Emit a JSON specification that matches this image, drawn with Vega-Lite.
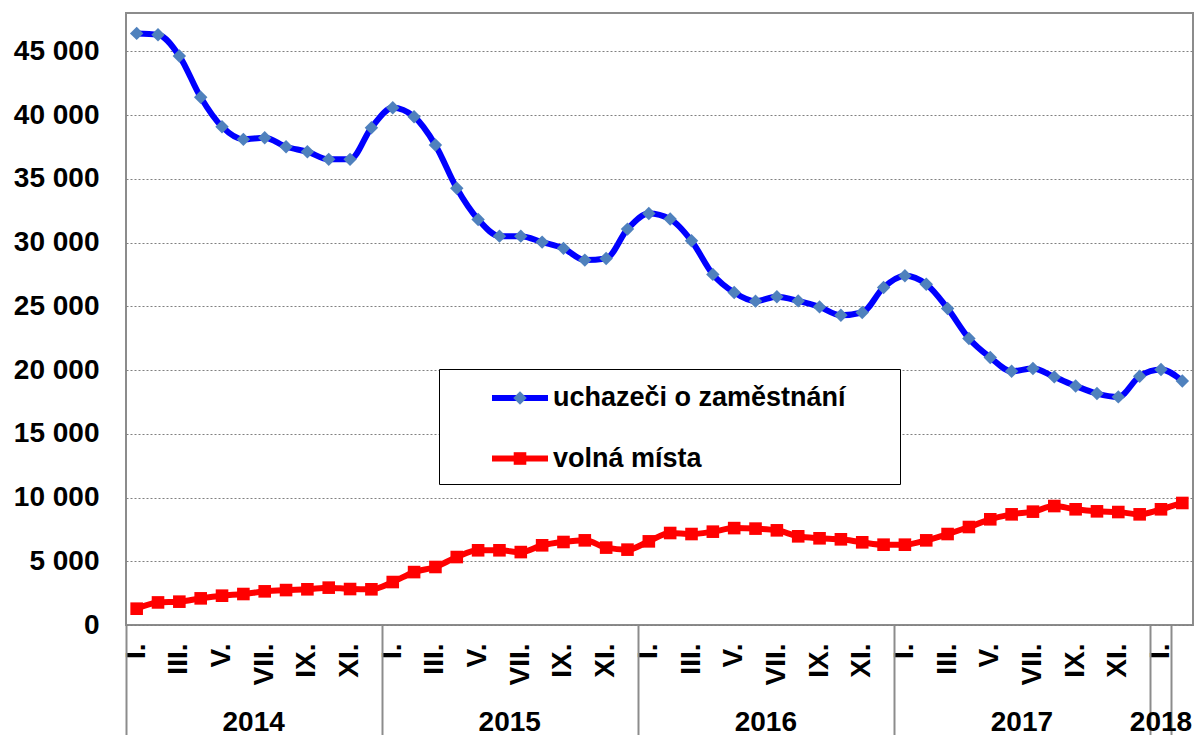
{
  "$schema": "https://vega.github.io/schema/vega-lite/v6.json",
  "width": 1067,
  "height": 612,
  "autosize": "none",
  "padding": {"left": 126, "top": 13, "right": 4, "bottom": 110},
  "background": "white",
  "config": {
    "font": "Liberation Sans",
    "view": {"stroke": "#8c8c8c", "strokeWidth": 2},
    "locale": {"number": {"decimal": ",", "thousands": " ", "grouping": [3], "currency": ["", " Kč"]}},
    "axis": {"labelFont": "Liberation Sans", "labelFontSize": 28, "labelFontWeight": "bold", "labelColor": "black", "title": null, "domain": false}
  },
  "data": {"values": [
    {"p": "2014-01", "uchazeči o zaměstnání": 46400, "volná místa": 1280},
    {"p": "2014-02", "uchazeči o zaměstnání": 46300, "volná místa": 1770},
    {"p": "2014-03", "uchazeči o zaměstnání": 44630, "volná místa": 1830},
    {"p": "2014-04", "uchazeči o zaměstnání": 41390, "volná místa": 2090},
    {"p": "2014-05", "uchazeči o zaměstnání": 39080, "volná místa": 2300},
    {"p": "2014-06", "uchazeči o zaměstnání": 38090, "volná místa": 2430},
    {"p": "2014-07", "uchazeči o zaměstnání": 38220, "volná místa": 2640},
    {"p": "2014-08", "uchazeči o zaměstnání": 37510, "volná místa": 2740},
    {"p": "2014-09", "uchazeči o zaměstnání": 37120, "volná místa": 2800},
    {"p": "2014-10", "uchazeči o zaměstnání": 36520, "volná místa": 2930},
    {"p": "2014-11", "uchazeči o zaměstnání": 36520, "volná místa": 2820},
    {"p": "2014-12", "uchazeči o zaměstnání": 39000, "volná místa": 2800},
    {"p": "2015-01", "uchazeči o zaměstnání": 40570, "volná místa": 3370},
    {"p": "2015-02", "uchazeči o zaměstnání": 39870, "volná místa": 4150},
    {"p": "2015-03", "uchazeči o zaměstnání": 37640, "volná místa": 4550},
    {"p": "2015-04", "uchazeči o zaměstnání": 34250, "volná místa": 5330},
    {"p": "2015-05", "uchazeči o zaměstnání": 31810, "volná místa": 5860},
    {"p": "2015-06", "uchazeči o zaměstnání": 30500, "volná místa": 5860},
    {"p": "2015-07", "uchazeči o zaměstnání": 30500, "volná místa": 5720},
    {"p": "2015-08", "uchazeči o zaměstnání": 30030, "volná místa": 6250},
    {"p": "2015-09", "uchazeči o zaměstnání": 29540, "volná místa": 6510},
    {"p": "2015-10", "uchazeči o zaměstnání": 28620, "volná místa": 6640},
    {"p": "2015-11", "uchazeči o zaměstnání": 28750, "volná místa": 6070},
    {"p": "2015-12", "uchazeči o zaměstnání": 31050, "volná místa": 5910},
    {"p": "2016-01", "uchazeči o zaměstnání": 32280, "volná místa": 6560},
    {"p": "2016-02", "uchazeči o zaměstnání": 31840, "volná místa": 7215},
    {"p": "2016-03", "uchazeči o zaměstnání": 30130, "volná místa": 7135},
    {"p": "2016-04", "uchazeči o zaměstnání": 27500, "volná místa": 7320},
    {"p": "2016-05", "uchazeči o zaměstnání": 26080, "volná místa": 7600},
    {"p": "2016-06", "uchazeči o zaměstnání": 25400, "volná místa": 7560},
    {"p": "2016-07", "uchazeči o zaměstnání": 25740, "volná místa": 7425},
    {"p": "2016-08", "uchazeči o zaměstnání": 25420, "volná místa": 6955},
    {"p": "2016-09", "uchazeči o zaměstnání": 24950, "volná místa": 6800},
    {"p": "2016-10", "uchazeči o zaměstnání": 24300, "volná místa": 6720},
    {"p": "2016-11", "uchazeči o zaměstnání": 24510, "volná místa": 6485},
    {"p": "2016-12", "uchazeči o zaměstnání": 26470, "volná místa": 6300},
    {"p": "2017-01", "uchazeči o zaměstnání": 27390, "volná místa": 6300},
    {"p": "2017-02", "uchazeči o zaměstnání": 26730, "volná místa": 6640},
    {"p": "2017-03", "uchazeči o zaměstnání": 24830, "volná místa": 7135},
    {"p": "2017-04", "uchazeči o zaměstnání": 22470, "volná místa": 7685},
    {"p": "2017-05", "uchazeči o zaměstnání": 20980, "volná místa": 8290},
    {"p": "2017-06", "uchazeči o zaměstnání": 19900, "volná místa": 8680},
    {"p": "2017-07", "uchazeči o zaměstnání": 20120, "volná místa": 8890},
    {"p": "2017-08", "uchazeči o zaměstnání": 19460, "volná místa": 9330},
    {"p": "2017-09", "uchazeči o zaměstnání": 18750, "volná místa": 9075},
    {"p": "2017-10", "uchazeči o zaměstnání": 18150, "volná místa": 8915},
    {"p": "2017-11", "uchazeči o zaměstnání": 17890, "volná místa": 8860},
    {"p": "2017-12", "uchazeči o zaměstnání": 19510, "volná místa": 8680},
    {"p": "2018-01", "uchazeči o zaměstnání": 20040, "volná místa": 9075},
    {"p": "2018-02", "uchazeči o zaměstnání": 19140, "volná místa": 9570}
  ]},
  "transform": [
    {"fold": ["uchazeči o zaměstnání", "volná místa"], "as": ["s", "v"]}
  ],
  "encoding": {
    "y": {
      "field": "v",
      "type": "quantitative",
      "scale": {"domain": [0, 48000], "nice": false, "zero": true},
      "axis": {
        "values": [0, 5000, 10000, 15000, 20000, 25000, 30000, 35000, 40000, 45000],
        "format": ",d",
        "ticks": false,
        "tickSize": 0,
        "labelPadding": 27,
        "grid": true,
        "gridColor": "#808080",
        "gridDash": [2, 2],
        "gridWidth": 1
      }
    }
  },
  "layer": [
    {
      "mark": {"type": "line", "interpolate": "monotone", "strokeWidth": 6, "strokeJoin": "round"},
      "encoding": {
        "x": {
          "field": "p",
          "type": "ordinal",
          "scale": {"type": "band", "paddingInner": 0, "paddingOuter": 0},
          "axis": {
            "orient": "bottom",
            "labelAngle": -90,
            "labelAlign": "right",
            "labelBaseline": "middle",
            "ticks": false,
            "tickSize": 0,
            "grid": false,
            "labelPadding": 18,
            "labelOverlap": false,
            "labelBound": false,
            "labelExpr": "(toNumber(slice(datum.value, 5)) % 2 == 1) ? ['I.','II.','III.','IV.','V.','VI.','VII.','VIII.','IX.','X.','XI.','XII.'][toNumber(slice(datum.value, 5)) - 1] : ''"
          }
        },
        "stroke": {
          "field": "s",
          "type": "nominal",
          "scale": {"range": ["#0000FF", "#FF0000"]},
          "legend": {
            "orient": "none",
            "legendX": 313,
            "legendY": 356,
            "title": " ",
            "titleOrient": "right",
            "titlePadding": 42,
            "titleFontSize": 27,
            "titleFont": "Liberation Sans",
            "padding": 12,
            "strokeColor": "black",
            "fillColor": "white",
            "symbolType": "M-2,0L2,0",
            "symbolSize": 784,
            "symbolStrokeWidth": 6,
            "symbolOffset": 52,
            "labelFont": "Liberation Sans",
            "labelFontSize": 27,
            "labelFontWeight": "bold",
            "labelColor": "black",
            "labelOffset": 16,
            "labelLimit": 700,
            "rowPadding": 30.5,
            "zindex": 1
          }
        }
      }
    },
    {
      "mark": {"type": "point", "filled": true, "opacity": 1, "size": 784, "strokeWidth": 0},
      "encoding": {
        "x": {
          "field": "p",
          "type": "ordinal",
          "scale": {"type": "band", "paddingInner": 0, "paddingOuter": 0},
          "axis": {
            "orient": "bottom",
            "values": ["2014-01", "2015-01", "2016-01", "2017-01", "2018-01", "2018-02"],
            "bandPosition": 0,
            "ticks": true,
            "tickSize": 110,
            "tickColor": "#8c8c8c",
            "tickWidth": 2,
            "grid": false,
            "labelAngle": 0,
            "labelAlign": "center",
            "labelBaseline": "top",
            "labelPadding": -27,
            "labelOffset": {"condition": {"test": "datum.value == '2018-01'", "value": 0}, "value": 117},
            "labelOverlap": false,
            "labelBound": false,
            "labelFlush": false,
            "labelExpr": "datum.value == '2018-02' ? '' : slice(datum.value, 0, 4)"
          }
        },
        "fill": {
          "field": "s",
          "type": "nominal",
          "scale": {"domain": ["uchazeči o zaměstnání", "volná místa"], "range": ["#4F81BD", "#FF0000"]},
          "legend": {
            "orient": "none",
            "legendX": 313,
            "legendY": 356,
            "title": null,
            "padding": 15,
            "symbolSize": 784,
            "symbolStrokeWidth": 0,
            "symbolOpacity": 1,
            "symbolOffset": 52,
            "labelFont": "Liberation Sans",
            "labelFontSize": 27,
            "labelFontWeight": "bold",
            "labelOpacity": 0,
            "labelOffset": 16,
            "labelLimit": 700,
            "rowPadding": 33.5,
            "zindex": 2
          }
        },
        "shape": {
          "field": "s",
          "type": "nominal",
          "scale": {"domain": ["uchazeči o zaměstnání", "volná místa"], "range": ["M0,-0.48L0.48,0L0,0.48L-0.48,0Z", "M-0.45,-0.45L0.45,-0.45L0.45,0.45L-0.45,0.45Z"]},
          "legend": {
            "orient": "none",
            "legendX": 313,
            "legendY": 356,
            "title": null,
            "padding": 15,
            "symbolSize": 784,
            "symbolStrokeWidth": 0,
            "symbolOpacity": 1,
            "symbolOffset": 52,
            "labelFont": "Liberation Sans",
            "labelFontSize": 27,
            "labelFontWeight": "bold",
            "labelOpacity": 0,
            "labelOffset": 16,
            "labelLimit": 700,
            "rowPadding": 33.5,
            "zindex": 2
          }
        }
      }
    }
  ],
  "resolve": {"axis": {"x": "independent"}}
}
